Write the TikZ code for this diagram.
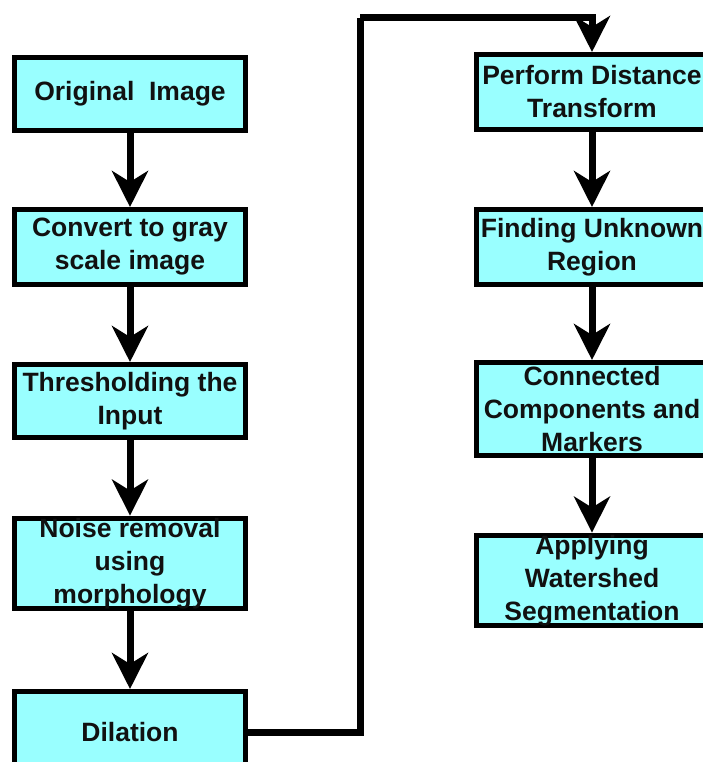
\documentclass[tikz,border=0pt]{standalone}
\usepackage{fontspec}
\setmainfont{Liberation Sans}
\usetikzlibrary{arrows.meta}
\definecolor{boxfill}{RGB}{153,255,255}
\definecolor{txt}{RGB}{17,17,17}
\tikzset{
  box/.style={draw=black, fill=boxfill, line width=5pt, rectangle, inner sep=0pt,
    minimum width=231pt, align=center, text=txt,
    font=\fontsize{26.5}{33}\selectfont\bfseries},
  conn/.style={line width=7pt, -{Stealth[length=36pt,width=36pt,inset=11pt]}},
  link/.style={line width=7pt}
}
\begin{document}
\begin{tikzpicture}[x=1pt,y=-1pt]
\useasboundingbox (0,0) rectangle (702,762);
\node[box, minimum height=73pt] (b1) at (130,94) {Original\ \ Image};
\node[box, minimum height=75pt] (b2) at (130,247) {Convert to gray\\scale image};
\node[box, minimum height=73pt] (b3) at (130,401) {Thresholding the\\Input};
\node[box, minimum height=88pt] (b4) at (130,563.5) {Noise removal\\using\\morphology};
\node[box, minimum height=81pt] (b5) at (130,732) {Dilation};
\node[box, minimum height=75pt] (r1) at (592,92) {Perform Distance\\Transform};
\node[box, minimum height=75pt] (r2) at (592,247) {Finding Unknown\\Region};
\node[box, minimum height=93pt] (r3) at (592,409) {Connected\\Components and\\Markers};
\node[box, minimum height=90pt] (r4) at (592,580.5) {Applying\\Watershed\\Segmentation};
\coordinate (c1) at (360,18);
\draw[conn] (b1) -- (b2);
\draw[conn] (b2) -- (b3);
\draw[conn] (b3) -- (b4);
\draw[conn] (b4) -- (b5);
\draw[conn] (r1) -- (r2);
\draw[conn] (r2) -- (r3);
\draw[conn] (r3) -- (r4);
\draw[link] (b5.east) -| (c1);
\draw[conn] (c1) -| (r1.north);
\end{tikzpicture}
\end{document}
